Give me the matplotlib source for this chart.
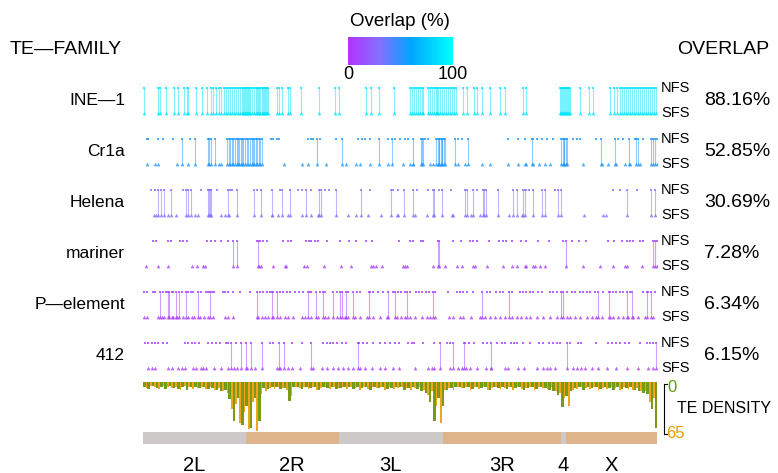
import matplotlib
matplotlib.use("Agg")
from matplotlib import pyplot as plt
from matplotlib.colors import LinearSegmentedColormap
from matplotlib.transforms import blended_transform_factory
from matplotlib.lines import Line2D

plt.rcParams["font.family"] = ["Liberation Sans", "DejaVu Sans"]

# chromosome arms (Mb)
chrom_names = ["2L", "2R", "3L", "3R", "4", "X"]
chrom_len = [24.1, 21.8, 24.4, 27.7, 1.2, 21.3]
chrom_colors = ["#CDC9C9", "#DEB48A", "#CDC9C9", "#DEB48A", "#CDC9C9", "#DEB48A"]

families = ["INE\u20141", "Cr1a", "Helena", "mariner", "P\u2014element", "412"]
overlap_pct = [88.16, 52.85, 30.69, 7.28, 6.34, 6.15]

# genome positions (Mb) of insertions found in both NFS and SFS
links_ine1 = [0.3, 3.6, 4.1, 5.3, 7.3, 8.1, 9.7, 10.2, 10.6, 12.4, 13.9, 15.1, 15.9, 16.5, 17.1, 17.7,
              18.3, 19.0, 19.5, 19.9, 20.4, 20.9, 21.3, 21.8, 22.3, 22.7, 23.2, 23.4, 23.7, 23.9, 24.1,
              24.4, 24.6, 24.8, 25.1, 25.5, 26.0, 26.5, 26.7, 27.0, 27.2, 27.4, 27.9, 28.1, 28.4, 28.6,
              28.8, 29.1, 29.3, 31.3, 31.9, 32.7, 33.9, 34.4, 37.1, 41.2, 45.0, 46.0, 52.2, 53.4, 55.4,
              58.8, 62.6, 63.1, 63.5, 64.0, 64.5, 64.9, 65.4, 65.6, 66.8, 67.3, 67.7, 68.2, 68.7, 68.9,
              69.1, 69.6, 70.1, 70.6, 71.0, 71.5, 72.0, 72.4, 72.9, 73.4, 75.1, 76.0, 77.6, 78.2, 79.4,
              81.3, 83.7, 84.9, 89.1, 89.9, 97.7, 98.0, 98.2, 98.4, 98.7, 98.9, 99.1, 99.4, 99.6, 99.8,
              100.1, 102.4, 104.6, 105.5, 109.5, 110.4, 111.2, 111.8, 112.3, 112.7, 113.2, 113.7, 114.2,
              114.6, 115.1, 115.6, 116.0, 116.5, 117.0, 117.4, 117.9, 118.4, 118.8, 119.3, 119.8, 120.2]
nfs_ine1 = []
sfs_ine1 = []

links_cr1a = [9.1, 12.2, 15.3, 15.5, 15.9, 16.9, 19.8, 20.1, 20.4, 20.8, 21.2, 21.6, 22.0, 22.2, 22.6,
              22.9, 23.1, 23.5, 23.9, 24.3, 24.7, 25.1, 25.5, 25.9, 26.1, 26.5, 26.8, 27.1, 27.4, 27.9,
              40.7, 46.6, 55.4, 58.3, 63.4, 65.1, 65.5, 65.7, 68.8, 69.1, 69.3, 69.5, 69.8, 70.0, 70.2,
              70.5, 70.8, 73.1, 76.2, 91.3, 98.1, 98.4, 98.6, 98.8, 99.1, 99.3, 107.3, 110.6, 114.0,
              115.6, 116.1, 119.2, 119.6, 120.0, 120.4]
nfs_cr1a = [1.0, 1.2, 3.6, 4.6, 7.1, 11.0, 29.9, 30.5, 31.3, 31.9, 38.7, 39.3, 39.9, 41.5, 45.2, 50.4,
            51.3, 52.0, 53.2, 57.5, 59.1, 60.2, 61.4, 62.1, 66.1, 66.8, 73.9, 74.7, 85.6, 88.0, 89.5,
            91.5, 92.3, 93.5, 94.7, 96.2, 100.9, 101.7, 102.4, 106.3, 111.4, 112.5, 115.3, 117.3]
sfs_cr1a = [1.0, 2.8, 3.6, 7.9, 10.6, 17.8, 18.4, 33.0, 37.3, 38.7, 42.8, 47.7, 49.9, 50.9, 53.2, 57.5,
            61.0, 62.6, 63.4, 67.3, 68.0, 73.9, 75.5, 79.4, 81.4, 85.6, 88.0, 89.5, 89.9, 91.5, 92.9,
            94.2, 95.4, 103.2, 107.5, 109.1, 111.0, 113.0, 114.2, 116.5]

links_helena = [3.4, 4.3, 4.9, 6.5, 10.0, 10.6, 11.3, 15.3, 15.5, 15.8, 16.0, 19.9, 22.0, 26.1, 27.6,
                30.3, 32.7, 34.5, 38.3, 41.3, 41.7, 45.2, 51.0, 58.1, 61.2, 63.4, 68.0, 68.3, 70.2,
                75.5, 76.0, 77.4, 79.6, 80.0, 80.4, 83.3, 86.7, 87.6, 89.1, 89.5, 91.5, 93.5, 94.2,
                97.3, 98.0, 113.5, 119.2, 120.0]
nfs_helena = [1.9, 2.8, 9.4, 13.6, 17.3, 20.4, 20.8, 26.7, 32.1, 36.4, 37.3, 39.5, 42.7, 43.7, 53.2,
              58.7, 59.8, 64.2, 66.7, 69.5, 72.2, 78.4, 89.9, 90.6, 96.6, 110.2, 111.8, 115.7]
sfs_helena = [2.6, 3.0, 5.9, 7.7, 12.2, 13.0, 18.4, 19.2, 20.2, 30.2, 31.7, 34.1, 37.2, 39.5, 41.1,
              48.1, 49.9, 52.7, 55.7, 59.5, 59.8, 63.8, 66.5, 72.4, 72.7, 77.0, 79.0, 85.8, 88.8,
              103.4, 107.9, 108.5]

links_mariner = [21.2, 22.1, 27.0, 69.1, 69.5, 99.2, 119.6, 120.0, 120.4]
nfs_mariner = [2.4, 3.0, 5.9, 6.5, 8.7, 9.3, 10.2, 14.9, 15.9, 16.9, 18.4, 20.0, 26.7, 27.4, 28.2, 29.0,
               32.9, 34.1, 34.6, 38.1, 39.0, 39.5, 40.3, 41.1, 43.2, 46.3, 48.3, 49.9, 52.3, 53.8,
               60.1, 62.7, 63.4, 65.1, 65.6, 72.6, 74.5, 76.6, 77.4, 78.4, 81.2, 83.5, 84.5, 85.1,
               86.4, 88.5, 89.8, 92.7, 95.2, 98.5, 100.5, 102.3, 103.8, 109.1, 110.4, 112.2, 113.5,
               114.2, 114.8, 116.5, 117.3]
sfs_mariner = [0.7, 3.6, 5.9, 11.4, 12.7, 14.0, 14.5, 27.3, 27.6, 30.4, 33.3, 33.5, 37.7, 38.4, 42.4,
               46.4, 48.7, 53.4, 54.0, 54.6, 56.0, 60.9, 61.4, 62.0, 68.0, 70.8, 73.5, 74.9, 77.4,
               77.8, 80.7, 84.5, 86.4, 87.6, 89.5, 89.9, 91.5, 91.9, 93.1, 94.2, 103.1, 107.1, 110.2,
               113.0, 113.5, 116.9]

links_pelement = [4.1, 5.9, 6.2, 7.7, 8.5, 10.0, 13.0, 15.7, 26.8, 30.2, 31.5, 38.6, 40.5, 42.3, 44.5,
                  46.2, 46.6, 47.5, 49.3, 53.0, 57.4, 59.1, 62.0, 68.0, 79.5, 85.9, 98.1, 98.5, 106.7,
                  109.3, 113.4, 114.7, 118.1, 119.0]
nfs_pelement = [0.2, 0.9, 2.3, 2.8, 4.8, 5.4, 6.7, 7.1, 9.1, 10.6, 11.2, 11.8, 13.6, 14.8, 15.3, 16.1,
                16.6, 18.7, 19.2, 20.0, 21.0, 22.7, 25.1, 27.4, 28.2, 29.0, 29.8, 30.5, 32.1, 32.9,
                33.7, 34.5, 35.6, 36.6, 37.6, 39.1, 39.5, 41.5, 42.7, 45.4, 48.1, 50.1, 50.9, 53.2,
                54.0, 55.2, 56.2, 58.7, 59.8, 60.6, 61.4, 62.6, 64.0, 64.8, 65.3, 66.3, 67.1, 68.4,
                71.6, 73.5, 74.3, 75.1, 75.9, 77.4, 80.6, 81.3, 82.7, 83.7, 84.5, 86.4, 88.4, 89.1,
                89.9, 90.7, 91.5, 92.7, 93.5, 95.4, 96.2, 97.0, 99.3, 100.5, 101.3, 102.4, 103.2,
                104.0, 104.8, 105.9, 107.9, 109.5, 110.2, 111.0, 111.8, 112.6, 114.2, 117.3, 118.4,
                120.0]
sfs_pelement = [0.2, 0.9, 3.6, 4.4, 4.9, 6.7, 7.1, 8.0, 9.3, 10.6, 11.4, 12.0, 13.4, 14.3, 15.3, 16.5,
                19.2, 20.0, 21.2, 27.0, 27.8, 28.6, 29.4, 30.5, 32.1, 33.3, 34.1, 35.2, 37.2, 38.0,
                39.5, 41.1, 42.7, 43.4, 45.4, 47.3, 48.1, 49.7, 50.9, 52.4, 54.0, 55.6, 57.1, 59.5,
                60.6, 61.4, 62.6, 63.8, 65.3, 66.5, 67.3, 68.4, 71.8, 72.7, 74.3, 75.1, 76.8, 79.0,
                80.2, 81.3, 82.5, 83.7, 84.9, 86.4, 87.6, 88.5, 89.9, 90.7, 92.3, 93.8, 95.4, 97.0,
                99.3, 100.1, 101.3, 102.4, 104.0, 105.2, 106.3, 107.5, 109.5, 110.2, 111.4, 112.6,
                113.8, 114.9, 116.1, 117.7, 119.6]

links_412 = [20.6, 23.0, 24.1, 25.3, 27.8, 31.9, 33.1, 39.5, 50.5, 69.6, 72.7, 75.2, 81.5, 99.3, 120.2]
nfs_412 = [0.5, 1.2, 2.0, 2.8, 3.6, 4.8, 5.7, 9.8, 10.6, 11.4, 12.2, 13.2, 15.3, 16.1, 17.1, 18.0, 19.5,
           20.0, 21.8, 29.8, 30.5, 34.9, 37.2, 42.1, 43.1, 43.8, 44.6, 45.5, 46.6, 47.7, 50.7, 51.5,
           52.4, 54.0, 55.6, 56.7, 57.9, 59.1, 60.1, 62.2, 63.0, 63.5, 65.6, 68.3, 71.2, 72.0, 75.5,
           76.5, 77.6, 79.8, 80.6, 83.0, 84.1, 84.9, 86.2, 87.0, 87.6, 89.0, 90.7, 92.9, 93.7, 95.2,
           96.2, 97.0, 97.7, 100.1, 102.0, 102.8, 106.3, 109.1, 109.9, 110.9, 111.8, 113.0, 114.0,
           116.5, 118.1, 118.8, 119.6]
sfs_412 = [1.2, 2.0, 2.8, 5.9, 6.7, 8.3, 9.1, 9.8, 11.8, 12.4, 13.5, 14.0, 14.8, 16.6, 18.2, 20.0, 21.3,
           22.1, 24.4, 26.3, 31.3, 32.1, 34.1, 34.9, 36.8, 39.9, 41.9, 43.1, 44.6, 45.8, 47.0, 48.1,
           49.3, 50.9, 52.0, 53.6, 55.6, 56.7, 58.7, 60.1, 63.8, 66.9, 67.7, 68.2, 72.0, 73.9, 74.7,
           75.7, 76.6, 78.2, 80.4, 81.7, 84.9, 85.6, 88.0, 89.3, 92.3, 93.8, 94.6, 95.4, 96.6, 100.9,
           101.7, 102.8, 103.6, 105.2, 106.7, 108.7, 111.0, 113.5, 116.1, 118.4, 119.6]

links = [links_ine1, links_cr1a, links_helena, links_mariner, links_pelement, links_412]
nfs_only = [nfs_ine1, nfs_cr1a, nfs_helena, nfs_mariner, nfs_pelement, nfs_412]
sfs_only = [sfs_ine1, sfs_cr1a, sfs_helena, sfs_mariner, sfs_pelement, sfs_412]

# TE density per 1 Mb bin (two tracks)
density_green = [7, 9, 5, 8, 6, 9, 5, 8, 9, 6, 10, 7, 6, 8, 7, 9, 8, 10, 11, 10,
                 22, 50, 20, 55, 30, 58, 20, 50, 8, 9, 7, 6, 9, 8, 24, 6, 7, 9, 6, 8,
                 7, 10, 6, 8, 7, 9, 8, 6, 7, 9, 6, 8, 7, 10, 6, 8, 7, 9, 8, 6,
                 7, 10, 8, 7, 9, 11, 14, 25, 50, 20, 30, 10, 8, 7, 6, 8, 7, 9, 6, 8,
                 7, 10, 6, 8, 7, 9, 6, 8, 7, 10, 8, 7, 9, 6, 8, 10, 12, 16, 32, 18,
                 12, 8, 7, 10, 6, 8, 7, 9, 6, 8, 10, 7, 9, 8, 7, 10, 12, 14, 15, 35, 58]
density_orange = [8, 5, 7, 9, 5, 7, 8, 6, 10, 5, 7, 9, 8, 6, 9, 7, 10, 8, 12, 14,
                  35, 28, 52, 38, 60, 25, 62, 15, 12, 8, 9, 6, 8, 10, 18, 7, 8, 6, 9, 7,
                  10, 8, 7, 9, 6, 8, 7, 9, 6, 8, 10, 7, 9, 6, 8, 7, 10, 6, 9, 8,
                  6, 8, 10, 8, 7, 10, 16, 12, 30, 52, 10, 8, 10, 6, 8, 7, 10, 7, 9, 6,
                  10, 8, 7, 9, 8, 7, 10, 6, 9, 8, 7, 10, 6, 8, 9, 7, 12, 14, 20, 30,
                  10, 9, 6, 8, 9, 7, 10, 8, 9, 7, 8, 10, 7, 9, 10, 8, 12, 11, 25, 20, 45]

green = "#6B8E00"
orange = "#EE9A00"
cmap = LinearSegmentedColormap.from_list(
  "ov", [(0, "#B432FF"), (0.3, "#8470FF"), (0.6, "#00A5FF"), (1, "#00FFFF")])

W, H = 778, 473
fig = plt.figure(figsize=(W / 100, H / 100), dpi=100)

def fbox(x0, y0, x1, y1):
  return [x0 / W, 1 - y1 / H, (x1 - x0) / W, (y1 - y0) / H]

genome_len = sum(chrom_len)
starts = [sum(chrom_len[:i]) for i in range(len(chrom_len))]

# main track axes
ax = fig.add_axes(fbox(143, 75, 657, 381))
ax.set_xlim(0, genome_len)
ax.set_ylim(11.5, -0.5)
ax.axis("off")

for i, fam in enumerate(families):
  col = cmap(overlap_pct[i] / 100)
  y_nfs = 2 * i
  y_sfs = 2 * i + 1
  ax.vlines(links[i], y_nfs, y_sfs, color=col, lw=0.8, alpha=0.5)
  ax.scatter(links[i] + nfs_only[i], [y_nfs] * (len(links[i]) + len(nfs_only[i])),
             marker="s", s=4, color=col, alpha=0.8, linewidths=0)
  ax.scatter(links[i] + sfs_only[i], [y_sfs] * (len(links[i]) + len(sfs_only[i])),
             marker="^", s=7, color=col, alpha=0.8, linewidths=0)

tr = blended_transform_factory(fig.transFigure, ax.transData)
for i, fam in enumerate(families):
  fig.text(125 / W, 2 * i + 0.5, fam, transform=tr, ha="right", va="center", fontsize=12.5)
  fig.text(661 / W, 2 * i, "NFS", transform=tr, ha="left", va="center", fontsize=10.5)
  fig.text(661 / W, 2 * i + 1, "SFS", transform=tr, ha="left", va="center", fontsize=10.5)
  fig.text(704 / W, 2 * i + 0.5, "%.2f%%" % overlap_pct[i], transform=tr,
           ha="left", va="center", fontsize=14)

# TE density
dax = fig.add_axes(fbox(143, 382, 657, 433))
dax.set_xlim(0, genome_len)
dax.set_ylim(65, 0)
dax.axis("off")
bins = list(range(len(density_green)))
dax.bar([b + 0.8 for b in bins], density_orange, width=0.4, color=orange, alpha=0.9, linewidth=0)
dax.bar([b + 0.3 for b in bins], density_green, width=0.6, color=green, alpha=0.9, linewidth=0)

fig.add_artist(Line2D([664 / W, 664 / W], [1 - 384 / H, 1 - 434 / H], color="black", lw=0.8))
fig.add_artist(Line2D([664 / W, 667 / W], [1 - 384 / H, 1 - 384 / H], color="black", lw=0.8))
fig.add_artist(Line2D([664 / W, 667 / W], [1 - 434 / H, 1 - 434 / H], color="black", lw=0.8))
fig.text(667 / W, 1 - 388 / H, "0", color="#5E9E00", fontsize=12, ha="left", va="center")
fig.text(666 / W, 1 - 433 / H, "65", color=orange, fontsize=12, ha="left", va="center")
fig.text(677 / W, 1 - 408 / H, "TE DENSITY", fontsize=11.5, ha="left", va="center")

# chromosome bar
cax_chr = fig.add_axes(fbox(143, 432, 657, 444))
cax_chr.set_xlim(0, genome_len)
cax_chr.set_ylim(0, 1)
cax_chr.axis("off")
cax_chr.barh(0.5, chrom_len, left=starts, height=1, color=chrom_colors, linewidth=0)
for name, s, l in zip(chrom_names, starts, chrom_len):
  cax_chr.text(s + l / 2, -1.75, name, ha="center", va="center", fontsize=14.5)

# colour legend
lax = fig.add_axes(fbox(348, 37, 453, 65))
sm = plt.cm.ScalarMappable(cmap=cmap, norm=plt.Normalize(0, 100))
cb = fig.colorbar(sm, cax=lax, orientation="horizontal", ticks=[0, 100])
cb.outline.set_visible(False)
lax.tick_params(length=0, labelsize=13, pad=1)
fig.text(400 / W, 1 - 22 / H, "Overlap (%)", ha="center", va="center", fontsize=13.5)

fig.text(10 / W, 1 - 50 / H, "TE\u2014FAMILY", ha="left", va="center", fontsize=14)
fig.text(677 / W, 1 - 50 / H, "OVERLAP", ha="left", va="center", fontsize=14)

fig.savefig("out.png", dpi=100)
